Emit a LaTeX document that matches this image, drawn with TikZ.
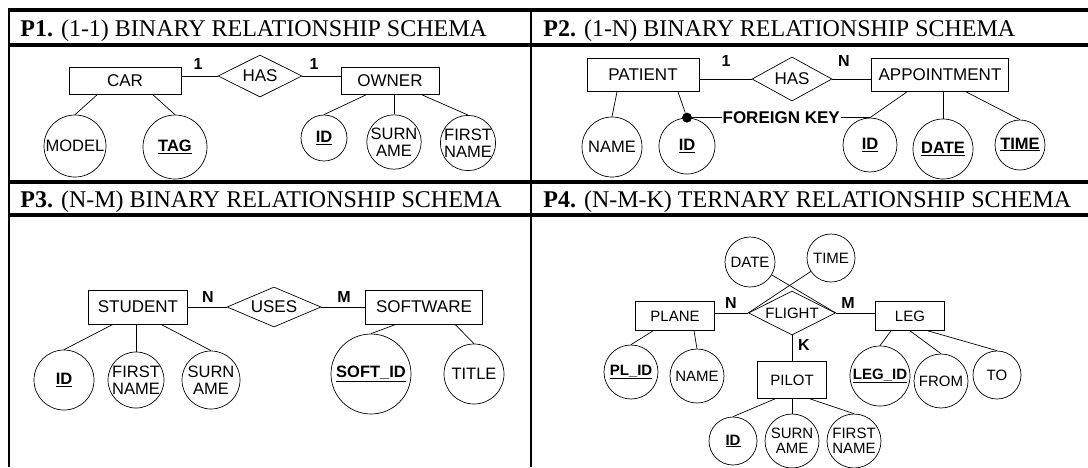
\documentclass[tikz,border=0pt]{standalone}
\usepackage{fontspec}
\setmainfont{Liberation Serif}
\setsansfont{Liberation Sans}
\usetikzlibrary{shapes.geometric}

\tikzset{
    entity/.style={draw, rectangle, inner sep=0pt, font=\sffamily\fontsize{17}{17}\selectfont},
    relation/.style={draw, diamond, aspect=2, inner sep=0pt, font=\sffamily\fontsize{17}{17}\selectfont},
    attribute/.style={draw, circle, inner sep=0pt, align=center, font=\sffamily\fontsize{16.5}{16.5}\selectfont},
    card/.style={inner sep=0pt, font=\sffamily\bfseries\fontsize{16}{16}\selectfont},
    header/.style={anchor=base west, inner sep=0pt, font=\fontsize{24}{24}\selectfont},
    small/.style={font=\sffamily\fontsize{15}{15}\selectfont},
}

\begin{document}
\begin{tikzpicture}[x=1pt, y=-1pt, line width=0.7pt]
                \useasboundingbox (0,0) rectangle (1088,467);
                % table
                \draw[line width=4pt] (8,10) -- (1088,10);
                \draw[line width=4pt] (8,45) -- (1088,45);
                \draw[line width=4pt] (8,182) -- (1088,182);
                \draw[line width=4pt] (8,215) -- (1088,215);
                \draw[line width=2pt] (9,8) -- (9,467);
                \draw[line width=2pt] (531,8) -- (531,467);
                \node[header] (h1) at (20,36) {\textbf{P1.} (1-1) BINARY RELATIONSHIP SCHEMA};
                \node[header] (h2) at (543,36) {\textbf{P2.} (1-N) BINARY RELATIONSHIP SCHEMA};
                \node[header] (h3) at (20,207) {\textbf{P3.} (N-M) BINARY RELATIONSHIP SCHEMA};
                \node[header] (h4) at (543,207) {\textbf{P4.} (N-M-K) TERNARY RELATIONSHIP SCHEMA};

                % P1
                \node[entity, minimum width=112, minimum height=27] (car) at (125,81) {CAR};
                \node[relation, minimum width=84, minimum height=42] (has1) at (260,76) {HAS};
                \node[entity, minimum width=98, minimum height=27] (owner) at (390,81) {OWNER};
                \node[card] (c1l) at (198,64) {1};
                \node[card] (c1r) at (314,64) {1};
                \node[attribute, minimum size=62] (model) at (75,146) {MODEL};
                \node[attribute, minimum size=64] (tag) at (175,147) {\underline{\textbf{TAG}}};
                \node[attribute, minimum size=46] (oid) at (324,138) {\underline{\textbf{ID}}};
                \node[attribute, minimum size=54] (osurn) at (394,142) {SURN\\AME};
                \node[attribute, minimum size=55] (ofirst) at (468,143) {FIRST\\NAME};

                % P2
                \node[entity, minimum width=112, minimum height=33] (patient) at (643,75) {PATIENT};
                \node[relation, minimum width=80, minimum height=44] (has2) at (792,79) {HAS};
                \node[entity, minimum width=137, minimum height=33] (appt) at (940,75) {APPOINTMENT};
                \node[card] (c2l) at (726,61) {1};
                \node[card] (c2r) at (844,61) {N};
                \node[attribute, minimum size=60] (pname) at (612,147) {NAME};
                \node[attribute, minimum size=56] (pid) at (687,146) {\underline{\textbf{ID}}};
                \node[attribute, minimum size=54] (aid) at (870,145) {\underline{\textbf{ID}}};
                \node[attribute, minimum size=60] (adate) at (943,149) {\raisebox{-3pt}{\underline{\textbf{DATE}}}};
                \node[attribute, minimum size=50] (atime) at (1020,145) {\raisebox{3pt}{\underline{\textbf{TIME}}}};
                \node[circle, fill, inner sep=0pt, minimum size=10] (fkdot) at (pid.north) {};

                % P3
                \node[entity, minimum width=99, minimum height=34] (student) at (138,307) {STUDENT};
                \node[relation, minimum width=94, minimum height=40] (uses) at (274,307) {USES};
                \node[entity, minimum width=117, minimum height=34] (software) at (424,307) {SOFTWARE};
                \node[card] (c3l) at (208,297) {N};
                \node[card] (c3r) at (344,297) {M};
                \node[attribute, minimum size=60] (sid) at (64,380) {\underline{\textbf{ID}}};
                \node[attribute, minimum size=56] (sfirst) at (136,380) {FIRST\\NAME};
                \node[attribute, minimum size=58] (ssurn) at (211,380) {SURN\\AME};
                \node[attribute, minimum size=80] (softid) at (371,374) {\underline{\textbf{SOFT\_ID}}};
                \node[attribute, minimum size=60] (title) at (474,374) {TITLE};

                % P4
                \node[attribute, small, minimum size=50] (fdate) at (750,262) {DATE};
                \node[attribute, small, minimum size=48] (ftime) at (831,258) {TIME};
                \node[entity, small, minimum width=79, minimum height=29] (plane) at (675,316) {PLANE};
                \node[relation, small, minimum width=87, minimum height=44] (flight) at (792,313) {FLIGHT};
                \node[entity, small, minimum width=69, minimum height=29] (leg) at (910,316) {LEG};
                \node[entity, small, minimum width=69, minimum height=37] (pilot) at (792,380) {PILOT};
                \node[card] (c4n) at (731,303) {N};
                \node[card] (c4m) at (848,303) {M};
                \node[card] (c4k) at (804,345) {K};
                \node[attribute, small, minimum size=54] (plid) at (631,372) {\raisebox{2pt}{\underline{\textbf{PL\_ID}}}};
                \node[attribute, small, minimum size=54] (plname) at (697,376) {NAME};
                \node[attribute, small, minimum size=60] (legid) at (880,376) {\raisebox{2pt}{\underline{\textbf{LEG\_ID}}}};
                \node[attribute, small, minimum size=54] (lfrom) at (941,381) {FROM};
                \node[attribute, small, minimum size=48] (lto) at (997,375) {TO};
                \node[attribute, small, minimum size=48] (pilid) at (733,441) {\underline{\textbf{ID}}};
                \node[attribute, small, minimum size=54] (pisurn) at (792,441) {SURN\\AME};
                \node[attribute, small, minimum size=54] (pifirst) at (854,441) {FIRST\\NAME};

                \draw
                (car.east |- has1.west) edge[] (has1.west)
                (has1.east) edge[] (owner.west |- has1.east)
                ([xshift=-28pt]car.south) edge[] (model.north)
                ([xshift=28pt]car.south) edge[] (tag.north)
                ([xshift=-24pt]owner.south) edge[] (oid.north)
                (owner.south -| osurn.north) edge[] (osurn.north)
                ([xshift=32pt]owner.south) edge[] (ofirst.north)
                (patient.east |- has2.west) edge[] (has2.west)
                (has2.east) edge[] (appt.west |- has2.east)
                ([xshift=-26pt]patient.south) edge[] (pname.north)
                ([xshift=35pt]patient.south) edge[] (fkdot)
                ([xshift=-33pt]appt.south) edge[] (aid.north)
                (appt.south -| adate.north) edge[] (adate.north)
                ([xshift=26pt]appt.south) edge[] (atime.north)
                (student.east |- uses.west) edge[] (uses.west)
                (uses.east) edge[] (software.west |- uses.east)
                ([xshift=-25pt]student.south) edge[] (sid.north)
                (student.south -| sfirst.north) edge[] (sfirst.north)
                ([xshift=23pt]student.south) edge[] (ssurn.north)
                ([xshift=-28pt]software.south) edge[] (softid.north)
                ([xshift=31pt]software.south) edge[] (title.north)
                (fdate) edge[] (flight.east)
                (ftime) edge[] (flight.west)
                (plane.east |- flight.west) edge[] (flight.west)
                (flight.east) edge[] (leg.west |- flight.east)
                (flight.south) edge[] (pilot.north)
                ([xshift=-22pt]plane.south) edge[] (plid.north)
                ([xshift=19pt]plane.south) edge[] (plname.north)
                ([xshift=-19pt]leg.south) edge[] (legid.north)
                (leg.south) edge[] (lfrom.north)
                ([xshift=18pt]leg.south) edge[] (lto.north)
                ([xshift=-17pt]pilot.south) edge[] (pilid.north)
                (pilot.south) edge[] (pisurn.north)
                ([xshift=18pt]pilot.south) edge[] (pifirst.north);
                \draw[line width=1.6pt] (fkdot) -- node[fill=white, inner sep=1pt, font=\sffamily\bfseries\fontsize{17}{17}\selectfont] (fk) {FOREIGN KEY} (aid.north);
            \end{tikzpicture}
\end{document}
